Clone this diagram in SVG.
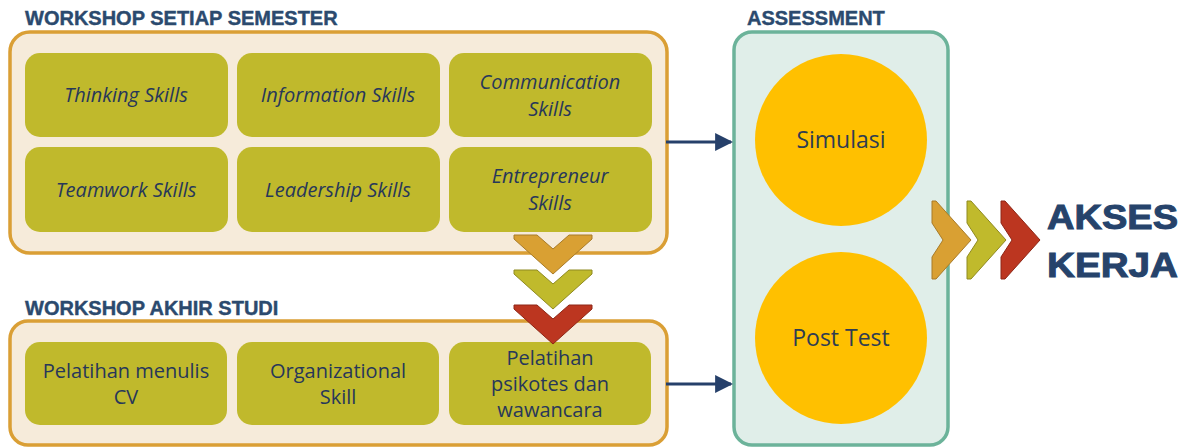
<svg xmlns="http://www.w3.org/2000/svg" width="1194" height="447" viewBox="0 0 1194 447">
<defs>
<style>
.title{font-family:"Liberation Sans",Arial,sans-serif;font-weight:bold;font-size:20px;fill:#2B4A6E;stroke:#2B4A6E;stroke-width:0.4}
.cont{fill:#F6EBDA;stroke:#DA9F35;stroke-width:3.5}
.box{fill:#C0B92C}
.it{font-family:"Open Sans","Liberation Sans",sans-serif;font-style:italic;font-size:20px;fill:#27375A;text-anchor:middle}
.rg{font-family:"Open Sans","Liberation Sans",sans-serif;font-size:20px;fill:#27375A;text-anchor:middle}
.circ{fill:#FFC000}
.ct{font-family:"Open Sans","Liberation Sans",sans-serif;font-size:23px;fill:#2E3C52;text-anchor:middle}
.conn{stroke:#26406A;stroke-width:3;fill:none}
.big{font-family:"Liberation Sans",Arial,sans-serif;font-weight:bold;font-size:35px;fill:#26436B;stroke:#26436B;stroke-width:1}
</style>
<marker id="ah" markerWidth="6" markerHeight="6" refX="5.3" refY="3" orient="auto" markerUnits="strokeWidth"><path d="M0,0 L6,3 L0,6 z" fill="#26406A"/></marker>
</defs>

<g id="workshop-semester">
<text class="title" x="25" y="25">WORKSHOP SETIAP SEMESTER</text>
<rect class="cont" x="10" y="32" width="657" height="221" rx="20"/>
</g>
<g id="thinking"><rect class="box" x="25" y="53" width="203" height="84" rx="15"/><text class="it" x="126" y="102">Thinking Skills</text></g>
<g id="information"><rect class="box" x="237" y="53" width="203" height="84" rx="15"/><text class="it" x="338" y="102">Information Skills</text></g>
<g id="communication"><rect class="box" x="449" y="53" width="203" height="84" rx="15"/><text class="it" x="550" y="89">Communication</text><text class="it" x="550" y="116">Skills</text></g>
<g id="teamwork"><rect class="box" x="25" y="147" width="203" height="85" rx="15"/><text class="it" x="126" y="197">Teamwork Skills</text></g>
<g id="leadership"><rect class="box" x="237" y="147" width="203" height="85" rx="15"/><text class="it" x="338" y="197">Leadership Skills</text></g>
<g id="entrepreneur"><rect class="box" x="449" y="147" width="203" height="85" rx="15"/><text class="it" x="550" y="183">Entrepreneur</text><text class="it" x="550" y="210">Skills</text></g>

<g id="workshop-akhir">
<text class="title" x="25" y="315">WORKSHOP AKHIR STUDI</text>
<rect class="cont" x="10" y="321" width="657" height="124" rx="18"/>
</g>
<g id="cv"><rect class="box" x="25" y="342" width="202" height="83" rx="15"/><text class="rg" x="126" y="378">Pelatihan menulis</text><text class="rg" x="126" y="404">CV</text></g>
<g id="organizational"><rect class="box" x="237" y="342" width="202" height="83" rx="15"/><text class="rg" x="338" y="378">Organizational</text><text class="rg" x="338" y="404">Skill</text></g>
<g id="psikotes"><rect class="box" x="449" y="342" width="202" height="83" rx="15"/><text class="rg" x="550" y="365">Pelatihan</text><text class="rg" x="550" y="391">psikotes dan</text><text class="rg" x="550" y="417">wawancara</text></g>

<g id="down-chevrons">
<polygon points="514,235 537,235 553,249 569,235 592,235 592,239 553,274 514,239" fill="#D9A033" stroke="#A87B28" stroke-width="1"/>
<polygon points="514,270 537,270 553,284 569,270 592,270 592,274 553,309 514,274" fill="#C0BA2C" stroke="#8F8A20" stroke-width="1"/>
<polygon points="514,305 537,305 553,319 569,305 592,305 592,309 553,344 514,309" fill="#BC3620" stroke="#8E2716" stroke-width="1"/>
</g>

<g id="assessment">
<text class="title" x="747" y="25">ASSESSMENT</text>
<rect x="734" y="32" width="214" height="413" rx="18" fill="#E0EEE9" stroke="#6CB39A" stroke-width="3.5"/>
</g>
<g id="simulasi"><circle class="circ" cx="841" cy="140" r="86"/><text class="ct" x="841" y="148">Simulasi</text></g>
<g id="posttest"><circle class="circ" cx="841" cy="338" r="86"/><text class="ct" x="841" y="346">Post Test</text></g>

<g id="connectors">
<line class="conn" x1="666" y1="142" x2="731" y2="142" marker-end="url(#ah)"/>
<line class="conn" x1="666" y1="384" x2="731" y2="384" marker-end="url(#ah)"/>
</g>

<g id="right-chevrons">
<polygon points="932,201 936,201 971,240 936,279 932,279 932,257 943,240 932,223" fill="#D9A033" stroke="#A87B28" stroke-width="1"/>
<polygon points="967,201 971,201 1006,240 971,279 967,279 967,257 978,240 967,223" fill="#C0BA2C" stroke="#8F8A20" stroke-width="1"/>
<polygon points="1001,201 1005,201 1040,240 1005,279 1001,279 1001,257 1012,240 1001,223" fill="#BC3620" stroke="#8E2716" stroke-width="1"/>
</g>

<g id="akses-kerja">
<text class="big" x="1047" y="229" textLength="131" lengthAdjust="spacingAndGlyphs">AKSES</text>
<text class="big" x="1047" y="277" textLength="131" lengthAdjust="spacingAndGlyphs">KERJA</text>
</g>
</svg>
